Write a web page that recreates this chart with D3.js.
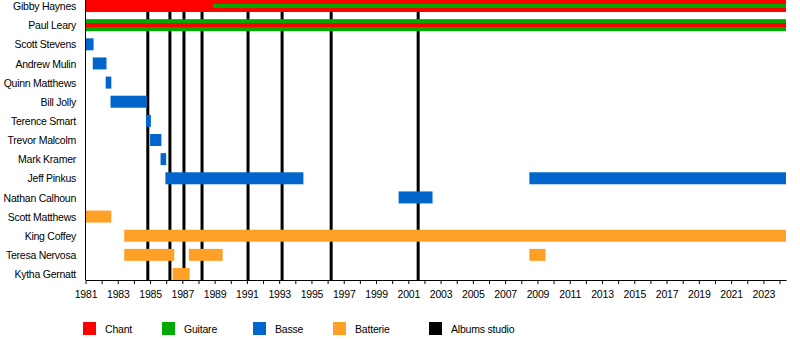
<!DOCTYPE html>
<html>
<head>
<meta charset="utf-8">
<script src="https://cdn.jsdelivr.net/npm/d3@7/dist/d3.min.js"></script>
<style>
  html, body { margin: 0; padding: 0; background: #fff; }
  svg { display: block; font-family: "Liberation Sans", Arial, sans-serif; }
</style>
</head>
<body>
<svg id="chart" width="800" height="340"></svg>
<script>
// Band members, top to bottom
const members = [
  "Gibby Haynes", "Paul Leary", "Scott Stevens", "Andrew Mulin", "Quinn Matthews",
  "Bill Jolly", "Terence Smart", "Trevor Malcolm", "Mark Kramer", "Jeff Pinkus",
  "Nathan Calhoun", "Scott Matthews", "King Coffey", "Teresa Nervosa", "Kytha Gernatt"
];

// Roles and their colours
const roles = ["Chant", "Guitare", "Basse", "Batterie"];
const roleColors = ["#ff0000", "#00aa00", "#0066cc", "#ffa026"];

// Main tenure bars: [member, role, start, end]
const mainBars = [
  ["Gibby Haynes", "Chant", 1981, 2024.4],
  ["Paul Leary", "Guitare", 1981, 2024.4],
  ["Scott Stevens", "Basse", 1981, 1981.5],
  ["Andrew Mulin", "Basse", 1981.45, 1982.3],
  ["Quinn Matthews", "Basse", 1982.25, 1982.6],
  ["Bill Jolly", "Basse", 1982.55, 1984.8],
  ["Terence Smart", "Basse", 1984.75, 1985.05],
  ["Trevor Malcolm", "Basse", 1985.0, 1985.7],
  ["Mark Kramer", "Basse", 1985.65, 1986.0],
  ["Jeff Pinkus", "Basse", 1985.95, 1994.5],
  ["Jeff Pinkus", "Basse", 2008.5, 2024.4],
  ["Nathan Calhoun", "Basse", 2000.4, 2002.5],
  ["Scott Matthews", "Batterie", 1981, 1982.6],
  ["King Coffey", "Batterie", 1983.4, 2024.4],
  ["Teresa Nervosa", "Batterie", 1983.4, 1986.5],
  ["Teresa Nervosa", "Batterie", 1987.4, 1989.5],
  ["Teresa Nervosa", "Batterie", 2008.5, 2009.5],
  ["Kytha Gernatt", "Batterie", 1986.4, 1987.45]
];

// Secondary roles drawn as a thin inner stripe: [member, role, start, end]
const stripeBars = [
  ["Gibby Haynes", "Guitare", 1988.9, 2024.4],
  ["Paul Leary", "Chant", 1981, 2024.4]
];

// Studio album release dates
const albumDates = [1984.86, 1986.23, 1987.1, 1988.22, 1991.07, 1993.18, 1996.22, 2001.61];

// Year labels on the time axis
const yearLabels = d3.range(1981, 2024, 2);
const yearTicks = d3.range(1981, 2025, 1);

const svg = d3.select("#chart");
const x = d3.scaleLinear().domain([1981, 2024.4]).range([85.5, 786]);
const y = d3.scalePoint().domain(members).range([6, 274]);
const color = d3.scaleOrdinal().domain(roles.concat(["Albums studio"])).range(roleColors.concat(["#000000"]));
const barH = 12, stripeH = 4;
const axisY = 280;

// Album release lines, behind the bars
svg.append("g").selectAll("line").data(albumDates).join("line")
  .attr("x1", d => x(d)).attr("x2", d => x(d))
  .attr("y1", 0).attr("y2", axisY)
  .attr("stroke", "#000").attr("stroke-width", 3);

// Tenure bars
svg.append("g").selectAll("rect").data(mainBars).join("rect")
  .attr("x", d => x(d[2]))
  .attr("width", d => x(d[3]) - x(d[2]))
  .attr("y", d => y(d[0]) - barH / 2)
  .attr("height", barH)
  .attr("fill", d => color(d[1]));

// Secondary-role stripes
svg.append("g").selectAll("rect").data(stripeBars).join("rect")
  .attr("x", d => x(d[2]))
  .attr("width", d => x(d[3]) - x(d[2]))
  .attr("y", d => y(d[0]) - stripeH / 2)
  .attr("height", stripeH)
  .attr("fill", d => color(d[1]));

// Member names
svg.append("g").selectAll("text").data(members).join("text")
  .attr("x", 76).attr("y", d => y(d) + 0.5)
  .attr("dy", "0.35em")
  .attr("text-anchor", "end")
  .attr("font-size", 10.5)
  .attr("letter-spacing", -0.25)
  .attr("fill", "#000")
  .text(d => d);

// Left edge of the plot
svg.append("line")
  .attr("x1", 85.5).attr("x2", 85.5).attr("y1", 0).attr("y2", axisY)
  .attr("stroke", "#000").attr("stroke-width", 1);

// Time axis
const axis = d3.axisBottom(x)
  .tickValues(yearTicks)
  .tickSize(4)
  .tickSizeOuter(0)
  .tickFormat(d => yearLabels.includes(d) ? String(d) : "");
const gAxis = svg.append("g").attr("transform", `translate(0,${axisY})`).call(axis);
gAxis.select(".domain").attr("stroke", "#000");
gAxis.selectAll(".tick line").attr("stroke", "#000");
gAxis.selectAll(".tick text")
  .attr("font-family", "'Liberation Sans', Arial, sans-serif")
  .attr("font-size", 10.5).attr("letter-spacing", -0.2)
  .attr("fill", "#000").attr("y", 9).attr("dy", "0.85em");

// Legend
const legendItems = roles.concat(["Albums studio"]);
const legendX = [83, 162, 253, 333, 429];
const lg = svg.append("g").selectAll("g").data(legendItems).join("g")
  .attr("transform", (d, i) => `translate(${legendX[i]},322)`);
lg.append("rect").attr("width", 13).attr("height", 13).attr("fill", d => color(d));
lg.append("text").attr("x", 22).attr("y", 7.5).attr("dy", "0.35em")
  .attr("font-size", 10.5).attr("letter-spacing", -0.2)
  .attr("fill", "#000").text(d => d);
</script>
</body>
</html>
